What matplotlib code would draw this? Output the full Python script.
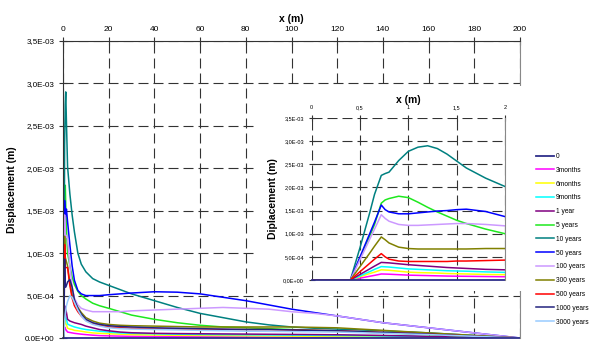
import matplotlib
matplotlib.use('Agg')
import matplotlib.pyplot as plt
from matplotlib.ticker import FuncFormatter, FixedLocator
import numpy as np

plt.rcParams['font.family'] = ['Liberation Sans', 'DejaVu Sans']

# ---------------- data ----------------
labels = ['0', '3months', '6months', '9months', '1 year', '5 years', '10 years',
          '50 years', '100 years', '300 years', '500 years', '1000 years', '3000 years']
colors = ['#2e2e8a', '#ff00ff', '#ffff00', '#00ffff', '#800080', '#1ee81e', '#008080',
          '#0000ff', '#cc99ff', '#808000', '#ff0000', '#23237f', '#99ccff']

# main chart, x in m, displacement in 1e-3 m
x_main = [0, 0.4, 0.7, 1, 1.2, 1.5, 2, 3, 4, 5, 6.5, 8, 10, 13, 16, 20, 25, 30, 40, 50,
          60, 70, 80, 90, 100, 110, 120, 140, 160, 180, 200]
m_zero = [0] * 31
m_3m = [0, 0, 0.13, 0.115, 0.1, 0.09, 0.07, 0.065, 0.06, 0.055, 0.05, 0.045, 0.04, 0.033, 0.028,
        0.025, 0.022, 0.02, 0.018, 0.016, 0.015, 0.014, 0.013, 0.012, 0.011, 0.01, 0.01, 0.008,
        0.005, 0.003, 0]
m_6m = [0, 0, 0.22, 0.19, 0.17, 0.16, 0.115, 0.105, 0.1, 0.09, 0.085, 0.08, 0.07, 0.06, 0.055,
        0.05, 0.045, 0.04, 0.035, 0.032, 0.03, 0.028, 0.026, 0.024, 0.022, 0.02, 0.019, 0.015,
        0.01, 0.005, 0]
m_9m = [0, 0, 0.29, 0.26, 0.24, 0.22, 0.165, 0.15, 0.14, 0.13, 0.12, 0.11, 0.1, 0.09, 0.08,
        0.07, 0.06, 0.055, 0.05, 0.045, 0.042, 0.04, 0.038, 0.036, 0.034, 0.032, 0.03, 0.024,
        0.016, 0.008, 0]
m_1y = [0, 0, 0.38, 0.35, 0.33, 0.3, 0.22, 0.2, 0.19, 0.18, 0.17, 0.16, 0.14, 0.12, 0.1,
        0.085, 0.07, 0.062, 0.055, 0.052, 0.05, 0.048, 0.046, 0.044, 0.042, 0.04, 0.038, 0.03,
        0.02, 0.01, 0]
m_5y = [0, 0, 1.68, 1.8, 1.57, 1.3, 1.0, 0.85, 0.72, 0.63, 0.55, 0.5, 0.46, 0.41, 0.38, 0.35,
        0.31, 0.27, 0.22, 0.18, 0.15, 0.13, 0.12, 0.11, 0.1, 0.09, 0.08, 0.06, 0.04, 0.02, 0]
m_10y = [0, 0, 2.28, 2.78, 2.9, 2.55, 2.02, 1.7, 1.45, 1.25, 1.0, 0.87, 0.78, 0.7, 0.66, 0.62,
         0.57, 0.52, 0.44, 0.36, 0.29, 0.24, 0.19, 0.155, 0.13, 0.115, 0.105, 0.085, 0.06,
         0.03, 0]
m_50y = [0, 0, 1.62, 1.43, 1.46, 1.52, 1.37, 1.1, 0.85, 0.68, 0.56, 0.52, 0.5, 0.5, 0.5, 0.51,
         0.52, 0.53, 0.545, 0.54, 0.52, 0.48, 0.44, 0.39, 0.34, 0.3, 0.26, 0.18, 0.12, 0.06, 0]
m_100y = [0, 0, 1.45, 1.18, 1.19, 1.21, 1.17, 0.85, 0.6, 0.47, 0.39, 0.35, 0.33, 0.31, 0.31,
          0.31, 0.31, 0.32, 0.33, 0.34, 0.35, 0.36, 0.35, 0.34, 0.31, 0.29, 0.26, 0.18, 0.12,
          0.06, 0]
m_300y = [0, 0, 1.2, 0.95, 0.93, 0.9, 0.85, 0.65, 0.5, 0.42, 0.36, 0.3, 0.24, 0.2, 0.175,
          0.16, 0.15, 0.145, 0.14, 0.135, 0.13, 0.13, 0.13, 0.13, 0.13, 0.125, 0.12, 0.09,
          0.06, 0.03, 0]
m_500y = [0, 0, 1.1, 0.83, 0.83, 0.83, 0.83, 0.62, 0.47, 0.38, 0.31, 0.26, 0.21, 0.17, 0.15,
          0.13, 0.12, 0.115, 0.11, 0.105, 0.1, 0.1, 0.1, 0.1, 0.095, 0.09, 0.085, 0.065, 0.045,
          0.02, 0]
m_1000y = [0, 0, 0.93, 0.6, 0.6, 0.62, 0.66, 0.69, 0.6, 0.45, 0.35, 0.28, 0.22, 0.18, 0.16,
           0.145, 0.135, 0.13, 0.12, 0.115, 0.11, 0.105, 0.1, 0.1, 0.095, 0.09, 0.085, 0.065,
           0.045, 0.02, 0]
m_3000y = [0, 0, 0.2, 0.28, 0.32, 0.38, 0.43, 0.5, 0.48, 0.42, 0.33, 0.26, 0.2, 0.16, 0.14,
           0.12, 0.11, 0.105, 0.1, 0.095, 0.09, 0.085, 0.08, 0.078, 0.075, 0.072, 0.07, 0.055,
           0.04, 0.02, 0]

# inset, x in m (0..2), displacement in 1e-3 m
x_ins = [0, 0.4, 0.5, 0.6, 0.65, 0.72, 0.76, 0.8, 0.9, 1.0, 1.1, 1.2, 1.3, 1.4, 1.5, 1.6, 1.8, 2.0]
i_zero = [0] * 18
i_3m = [0, 0, 0.04, 0.08, 0.1, 0.13, 0.128, 0.125, 0.115, 0.105, 0.1, 0.095, 0.09, 0.085,
        0.082, 0.08, 0.075, 0.07]
i_6m = [0, 0, 0.07, 0.14, 0.17, 0.22, 0.215, 0.21, 0.19, 0.17, 0.16, 0.155, 0.15, 0.14, 0.135,
        0.13, 0.12, 0.115]
i_9m = [0, 0, 0.09, 0.18, 0.23, 0.29, 0.285, 0.28, 0.26, 0.24, 0.23, 0.22, 0.21, 0.2, 0.195,
        0.19, 0.175, 0.165]
i_1y = [0, 0, 0.12, 0.24, 0.3, 0.38, 0.375, 0.37, 0.35, 0.33, 0.315, 0.3, 0.285, 0.27, 0.26,
        0.25, 0.23, 0.22]
i_5y = [0, 0, 0.48, 0.95, 1.2, 1.66, 1.73, 1.76, 1.81, 1.78, 1.68, 1.57, 1.47, 1.38, 1.29,
        1.22, 1.1, 1.0]
i_10y = [0, 0, 0.7, 1.45, 1.85, 2.26, 2.3, 2.33, 2.58, 2.78, 2.87, 2.9, 2.84, 2.72, 2.57,
         2.42, 2.2, 2.02]
i_50y = [0, 0, 0.5, 1.0, 1.25, 1.62, 1.52, 1.47, 1.43, 1.43, 1.45, 1.47, 1.49, 1.5, 1.52,
         1.53, 1.48, 1.37]
i_100y = [0, 0, 0.44, 0.88, 1.1, 1.41, 1.33, 1.27, 1.2, 1.18, 1.18, 1.19, 1.2, 1.21, 1.22,
          1.22, 1.2, 1.17]
i_300y = [0, 0, 0.29, 0.58, 0.73, 0.93, 0.87, 0.8, 0.71, 0.68, 0.67, 0.67, 0.67, 0.67, 0.67,
          0.67, 0.68, 0.68]
i_500y = [0, 0, 0.18, 0.36, 0.45, 0.57, 0.5, 0.45, 0.41, 0.4, 0.4, 0.4, 0.4, 0.4, 0.41, 0.41,
          0.42, 0.43]

main_series = [m_3m, m_6m, m_9m, m_1y, m_5y, m_10y, m_50y, m_100y, m_300y, m_500y,
               m_1000y, m_3000y]
main_colors = colors[1:]
inset_series = [i_3m, i_6m, i_9m, i_1y, i_5y, i_10y, i_50y, i_100y, i_300y, i_500y]
inset_colors = colors[1:11]

main_xticks = [0, 20, 40, 60, 80, 100, 120, 140, 160, 180, 200]
inset_xticks = [0, 0.5, 1, 1.5, 2]
y_ticks = [0, 0.5e-3, 1.0e-3, 1.5e-3, 2.0e-3, 2.5e-3, 3.0e-3, 3.5e-3]

# ---------------- drawing ----------------
W, H = 592, 341
fig = plt.figure(figsize=(W / 100, H / 100), dpi=100)


def sci(v, pos=None):
    return f"{v:.1E}".replace('.', ',')


def dec(v, pos=None):
    return f"{v:g}".replace('.', ',')


dash = (0, (9, 4.5))
dark = '#333333'

ax = fig.add_axes([63 / W, 3 / H, 457 / W, 297 / H])
handles = {}
for vals, lab, col in zip(main_series, labels[1:], main_colors):
    ln, = ax.plot(x_main, np.array(vals) * 1e-3, color=col, lw=1.1)
    handles[lab] = ln
ln0, = ax.plot(x_main, np.array(m_zero) * 1e-3, color=colors[0], lw=1.3, clip_on=False)
handles['0'] = ln0
ax.set_xlim(0, 200)
ax.set_ylim(0, 3.5e-3)
ax.xaxis.tick_top()
ax.xaxis.set_label_position('top')
ax.xaxis.set_major_locator(FixedLocator(main_xticks))
ax.yaxis.set_major_locator(FixedLocator(y_ticks))
ax.yaxis.set_major_formatter(FuncFormatter(sci))
ax.grid(True, ls=dash, color=dark, lw=0.8)
ax.tick_params(axis='both', direction='inout', length=6, width=0.8, color=dark,
               labelsize=5.8, pad=3)
ax.tick_params(axis='x', labelsize=6)
ax.spines['bottom'].set_visible(False)
ax.spines['right'].set_color('#888888')
ax.spines['left'].set_color(dark)
ax.spines['top'].set_color(dark)
ax.set_xlabel('x (m)', fontsize=7.5, fontweight='bold', labelpad=3)
ax.set_ylabel('Displacement (m)', fontsize=7.5, fontweight='bold', labelpad=6)

# white background box behind the inset
bg = fig.add_axes([255 / W, 1 - 291 / H, 273 / W, 205 / H])
bg.set_xticks([])
bg.set_yticks([])
for s in bg.spines.values():
    s.set_visible(False)
bg.set_facecolor('white')

ins = fig.add_axes([311.7 / W, 1 - 280 / H, 193.3 / W, 162 / H])
for vals, col in zip(inset_series, inset_colors):
    ins.plot(x_ins, np.array(vals) * 1e-3, color=col, lw=1.1)
ins.plot(x_ins, np.array(i_zero) * 1e-3, color=colors[0], lw=1.3, clip_on=False)
ins.set_xlim(0, 2)
ins.set_ylim(0, 3.5e-3)
ins.xaxis.tick_top()
ins.xaxis.set_label_position('top')
ins.xaxis.set_major_locator(FixedLocator(inset_xticks))
ins.xaxis.set_major_formatter(FuncFormatter(dec))
ins.yaxis.set_major_locator(FixedLocator(y_ticks))
ins.yaxis.set_major_formatter(FuncFormatter(sci))
ins.grid(True, ls=dash, color=dark, lw=0.8)
ins.tick_params(axis='both', direction='inout', length=5, width=0.8, color=dark,
                labelsize=4.0, pad=3)
ins.spines['left'].set_visible(False)
ins.spines['top'].set_visible(False)
ins.spines['bottom'].set_visible(False)
ins.spines['right'].set_color('#888888')
ins.set_xlabel('x (m)', fontsize=7.5, fontweight='bold', labelpad=2)
ins.set_ylabel('Diplacement (m)', fontsize=7.5, fontweight='bold', labelpad=4)

fig.legend(handles=[handles[l] for l in labels], labels=labels, loc='upper left',
           bbox_to_anchor=(536 / W, 1 - 153 / H), frameon=False, fontsize=4.8,
           handlelength=2.7, handletextpad=0.3, labelspacing=1.02, borderpad=0,
           borderaxespad=0)

fig.savefig('out.png', dpi=100)
